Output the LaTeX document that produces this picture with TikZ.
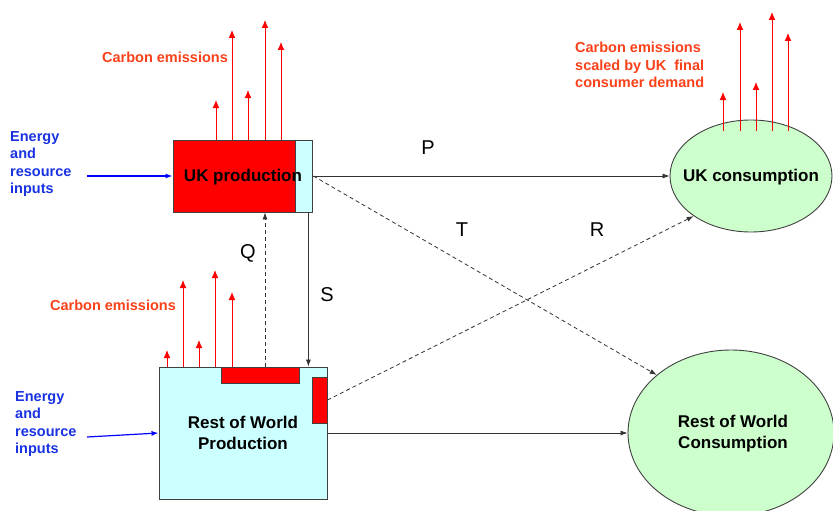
\documentclass[tikz,border=0pt]{standalone}
\usepackage{fontspec}
\setmainfont{Liberation Sans}
\usetikzlibrary{positioning,shapes.geometric,arrows.meta}
\definecolor{boxred}{RGB}{255,0,0}
\definecolor{boxcyan}{RGB}{204,255,255}
\definecolor{cellgreen}{RGB}{204,255,204}
\definecolor{emitext}{RGB}{250,65,25}
\definecolor{inputblue}{RGB}{25,50,225}

\begin{document}
\begin{tikzpicture}[x=1pt,y=-1pt,
	frame/.style={draw=black!75,line width=0.9pt,inner sep=0pt},
	big/.style={font=\fontsize{17}{21}\selectfont\bfseries,align=center},
	small/.style={font=\fontsize{14.5}{17.5}\selectfont\bfseries,inner sep=0pt},
	letter/.style={font=\fontsize{20}{24}\selectfont,inner sep=0pt},
	flow/.style={draw=black!80,line width=0.8pt,-{Latex[length=7pt,width=5pt]}},
	dflow/.style={flow,dash pattern=on 4pt off 3pt},
	feed/.style={draw=blue,line width=1.2pt,-{Latex[length=7pt,width=5pt]}},
	emis/.style={draw=red,line width=1pt,-{Latex[length=8pt,width=7pt]}}]
		\useasboundingbox (0,0) rectangle (833,511);

		% production boxes
		\node[frame,fill=boxred,minimum width=122pt,minimum height=72pt]	(ukbox)		at (234,176)	{};
		\node[frame,fill=boxcyan,minimum width=17pt,minimum height=72pt,right=0pt of ukbox]	(ukstrip)	{};
		\node[big]											(uklabel)	at (243,177)	{UK production};
		\node[frame,fill=boxcyan,minimum width=168pt,minimum height=132pt,big]	(rowprod)	at (243,433)	{Rest of World\\Production};
		\node[frame,fill=boxred,minimum width=78pt,minimum height=16pt]	(rowred)	at (260,375)	{};
		\node[frame,fill=boxred,minimum width=15pt,minimum height=46pt]	(rowside)	at (319.5,400)	{};

		% consumption
		\node[ellipse,frame,fill=cellgreen,minimum width=162pt,minimum height=112pt]	(ukcons)	at (751,176)	{};
		\node[big]											(ukconslabel)	at (751,177)	{UK consumption};
		\node[ellipse,frame,fill=cellgreen,minimum width=206pt,minimum height=166pt]	(rowcons)	at (731,433)	{};
		\node[big]											(rowconslabel)	at (733,434)	{Rest of World\\Consumption};

		% inputs
		\node[small,text=inputblue,align=left,anchor=west]	(inuktext)	at (10,164)	{Energy\\and\\resource\\inputs};
		\node[small,text=inputblue,align=left,anchor=west]	(inrowtext)	at (15,424)	{Energy\\and\\resource\\inputs};
		\coordinate (inuk) at (87,176);
		\coordinate (inrow) at (87,437);
		\draw[feed] (inuk) -- (ukbox.west);
		\draw[feed] (inrow) -- (rowprod.west);

		% emissions
		\foreach \x/\t in {216/100,232/30,248/90,265/20,281/42}
			\draw[emis] (\x,140) -- (\x,\t);
		\foreach \x/\t in {167/350,183/280,199/340,215/270,232/292}
			\draw[emis] (\x,367) -- (\x,\t);
		\foreach \x/\t in {723/92,740/22,756/82,772/12,788/33}
			\draw[emis] (\x,131) -- (\x,\t);
		\node[small,text=emitext]							(emuk)		at (165,57)		{Carbon emissions};
		\node[small,text=emitext]							(emrow)		at (113,305)	{Carbon emissions};
		\node[small,text=emitext,align=left,anchor=west]	(emcons)	at (575,65)		{Carbon emissions\\scaled by UK\ \ final\\consumer demand};

		% flows
		\draw[flow] (ukstrip.east) -- (ukcons.west);
		\draw[dflow] (ukstrip.east) -- (rowcons.142);
		\draw[dflow] (rowside.east) -- (ukcons.215);
		\draw[flow] ([xshift=4pt]ukstrip.south) -- ([xshift=4pt]ukstrip.south |- rowprod.north);
		\draw[dflow] ([xshift=5pt]rowred.north) -- ([xshift=5pt]rowred.north |- ukbox.south);
		\draw[flow] (rowprod.east) -- (rowcons.west);

		\node[letter]	(lp)	at (428,148)	{P};
		\node[letter]	(lt)	at (462,230)	{T};
		\node[letter]	(lr)	at (597,230)	{R};
		\node[letter]	(lq)	at (248,253)	{Q};
		\node[letter]	(ls)	at (327,295)	{S};
	\end{tikzpicture}
\end{document}
